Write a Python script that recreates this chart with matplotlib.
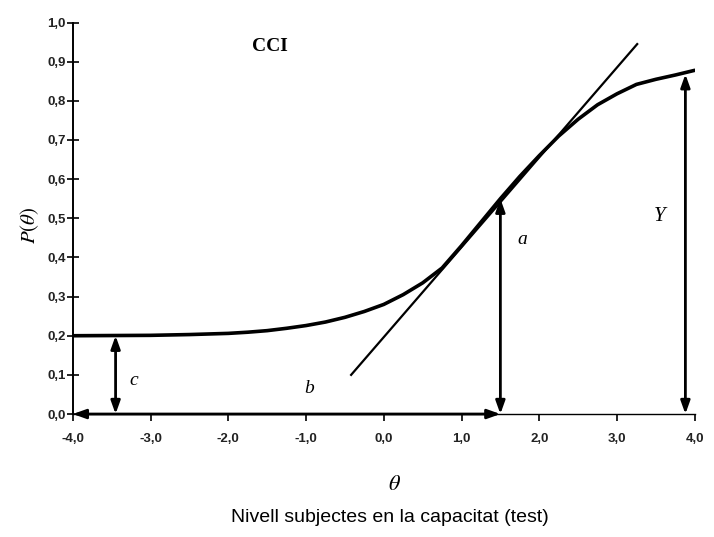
#!/usr/bin/env python3
# -*- coding: utf-8 -*-
"""
Item characteristic curve (CCI) with a, b, c and Y markers
"""

#%% packages
import numpy as np
import matplotlib as mpl
import matplotlib.figure as figure

mpl.rc('font', family='Liberation Sans')

#%% data
theta = [-4.0, -3.0, -2.5, -2.0, -1.75, -1.5, -1.25, -1.0, -0.75, -0.5,
         -0.25, 0.0, 0.25, 0.5, 0.75, 1.0, 1.25, 1.5, 1.75, 2.0,
         2.25, 2.5, 2.75, 3.0, 3.25, 3.5, 3.75, 4.0]
prob = [0.200, 0.201, 0.203, 0.206, 0.209, 0.213, 0.219, 0.226, 0.235, 0.247,
        0.262, 0.280, 0.305, 0.335, 0.373, 0.430, 0.490, 0.550, 0.607, 0.660,
        0.710, 0.753, 0.790, 0.818, 0.842, 0.855, 0.866, 0.878]

# tangent line at the inflection point
tang_x = [-0.42, 3.26]
tang_y = [0.10, 0.945]

# item parameters as drawn
c_theta, c_val = -3.45, 0.20
b_val = 1.5
a_top = 0.55
y_theta, y_top = 3.88, 0.868

xticks = np.arange(-4, 4.01, 1.0)
yticks = np.arange(0, 1.01, 0.1)

#%% figure
fig = figure.Figure(figsize=(7.14, 5.37), dpi=100)
axs = fig.add_axes([0.102, 0.229, 0.871, 0.729])

axs.plot(theta, prob, 'k-', linewidth=2.6, solid_capstyle='round', solid_joinstyle='round')
axs.plot(tang_x, tang_y, 'k-', linewidth=1.6)

arrow_kw = dict(arrowstyle='<|-|>,head_length=0.7,head_width=0.25', color='k',
                lw=2.0, mutation_scale=11, shrinkA=0, shrinkB=0)
axs.annotate('', xy=(c_theta, 0), xytext=(c_theta, c_val), arrowprops=arrow_kw)
axs.annotate('', xy=(-4.0, 0), xytext=(b_val, 0), arrowprops=arrow_kw)
axs.annotate('', xy=(b_val, 0), xytext=(b_val, a_top), arrowprops=arrow_kw)
axs.annotate('', xy=(y_theta, 0), xytext=(y_theta, y_top), arrowprops=arrow_kw)

serif = 'Liberation Serif'
axs.text(-3.22, 0.085, 'c', family=serif, style='italic', fontsize=14, va='center', ha='center')
axs.text(-0.96, 0.065, 'b', family=serif, style='italic', fontsize=14, va='center', ha='center')
axs.text(1.78, 0.445, 'a', family=serif, style='italic', fontsize=14, va='center', ha='center')
axs.text(3.55, 0.505, 'Y', family=serif, style='italic', fontsize=15, va='center', ha='center')
axs.text(-1.46, 0.94, 'CCI', family=serif, weight='bold', fontsize=14, va='center', ha='center')

axs.set_xlim(-4, 4)
axs.set_ylim(0, 1)
axs.set_xticks(xticks)
axs.set_yticks(yticks)
axs.set_xticklabels(['{:.1f}'.format(v).replace('.', ',') for v in xticks],
                    fontsize=9.5, weight='bold', color='#222222')
axs.set_yticklabels(['{:.1f}'.format(v).replace('.', ',') for v in yticks],
                    fontsize=9.5, weight='bold', color='#222222')
axs.tick_params(axis='y', direction='inout', length=8, width=1.2, pad=1)
axs.tick_params(axis='x', direction='out', length=5, width=1.2, pad=9)

axs.spines['top'].set_visible(False)
axs.spines['right'].set_visible(False)
axs.spines['left'].set_linewidth(1.4)
axs.spines['bottom'].set_linewidth(1.0)

fig.text(0.042, 0.58, r'$P(\theta)$', rotation=90, ha='center', va='center',
         fontsize=15, family=serif, math_fontfamily='stix')
fig.text(0.553, 0.097, r'$\theta$', ha='center', va='center', fontsize=16,
         math_fontfamily='stix')
fig.text(0.546, 0.037, 'Nivell subjectes en la capacitat (test)', ha='center',
         va='center', fontsize=14)

fig.savefig('out.png', dpi=100)
